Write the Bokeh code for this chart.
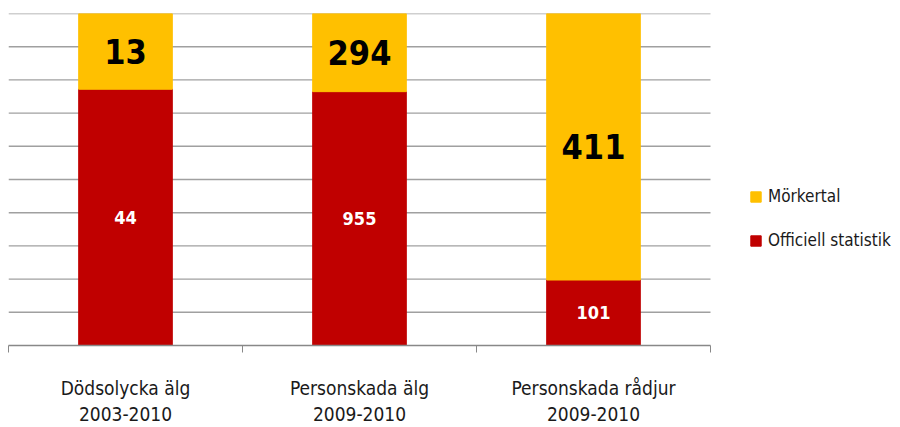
from bokeh.plotting import figure
from bokeh.models import (ColumnDataSource, FixedTicker, Legend, LegendItem, Range1d)
from bokeh.core.properties import value
from bokeh.embed import file_html
from bokeh.resources import INLINE

categories = ["Dödsolycka älg\n2003-2010", "Personskada älg\n2009-2010", "Personskada rådjur\n2009-2010"]
officiell = [44, 955, 101]
morkertal = [13, 294, 411]
colors = {"Mörkertal": "#FFC000", "Officiell statistik": "#C00000"}
grid_ticks = [10, 20, 30, 40, 50, 60, 70, 80, 90, 100]

FONT = "'Liberation Sans Narrow', 'DejaVu Sans Condensed', 'Roboto Condensed', sans-serif"

n = len(categories)
xs = [i + 0.5 for i in range(n)]
totals = [o + m for o, m in zip(officiell, morkertal)]
off_pct = [100.0 * o / t for o, t in zip(officiell, totals)]

src = ColumnDataSource(dict(
    x=xs, off_pct=off_pct, top=[100.0] * n,
    off_lbl=[str(v) for v in officiell], mork_lbl=[str(v) for v in morkertal],
    off_mid=[q / 2 for q in off_pct],
    mork_mid=[(q + 100) / 2 for q in off_pct],
))

W, H = 900, 427
left, right_plot_px = 8, 710
frame_w = W - left
x_end = n * frame_w / (right_plot_px - left)

p = figure(width=W, height=H, output_backend="svg", toolbar_location=None,
           x_range=Range1d(0, x_end), y_range=Range1d(0, 100),
           min_border_left=left, min_border_right=0, min_border_top=13, min_border_bottom=80)
p.outline_line_color = None
p.background_fill_color = "white"
p.border_fill_color = "white"
p.grid.visible = False

# horizontal gridlines limited to the category area
p.segment(x0=[0] * len(grid_ticks), x1=[n] * len(grid_ticks), y0=grid_ticks, y1=grid_ticks,
          line_color="#A0A0A0", line_width=1.4)

r_off = p.vbar(x="x", bottom=0, top="off_pct", width=0.4, source=src,
               fill_color=colors["Officiell statistik"], line_color=colors["Officiell statistik"])
r_mork = p.vbar(x="x", bottom="off_pct", top="top", width=0.4, source=src,
                fill_color=colors["Mörkertal"], line_color=colors["Mörkertal"])

p.text(x="x", y="mork_mid", text="mork_lbl", source=src, text_align="center", text_baseline="middle",
       text_font=value(FONT), text_font_style="bold", text_font_size="34px", text_color="black")
p.text(x="x", y="off_mid", text="off_lbl", source=src, text_align="center", text_baseline="middle",
       text_font=value(FONT), text_font_style="bold", text_font_size="18px", text_color="white")

p.yaxis.visible = False

xa = p.xaxis[0]
xa.bounds = (0, n)
xa.ticker = FixedTicker(ticks=xs, minor_ticks=list(range(0, n + 1)))
xa.major_label_overrides = {x: c for x, c in zip(xs, categories)}
xa.major_tick_out = 0
xa.major_tick_in = 0
xa.minor_tick_out = 7
xa.minor_tick_in = 0
xa.minor_tick_line_color = "#888888"
xa.axis_line_color = "#888888"
xa.axis_line_width = 1.5
xa.major_label_text_font = FONT
xa.major_label_text_font_size = "19px"
xa.major_label_text_color = "#1a1a1a"
xa.major_label_standoff = 24

legend = Legend(items=[LegendItem(label="Mörkertal", renderers=[r_mork]),
                       LegendItem(label="Officiell statistik", renderers=[r_off])],
                location=(741, 95), orientation="vertical")
legend.border_line_color = None
legend.background_fill_alpha = 0
legend.padding = 0
legend.margin = 0
legend.glyph_width = 13
legend.glyph_height = 13
legend.label_standoff = 6
legend.label_height = 20
legend.spacing = 24
legend.label_text_font = FONT
legend.label_text_font_size = "17px"
legend.label_text_color = "#1a1a1a"
p.add_layout(legend, "center")

open("out.html", "w").write(file_html(p, INLINE))
